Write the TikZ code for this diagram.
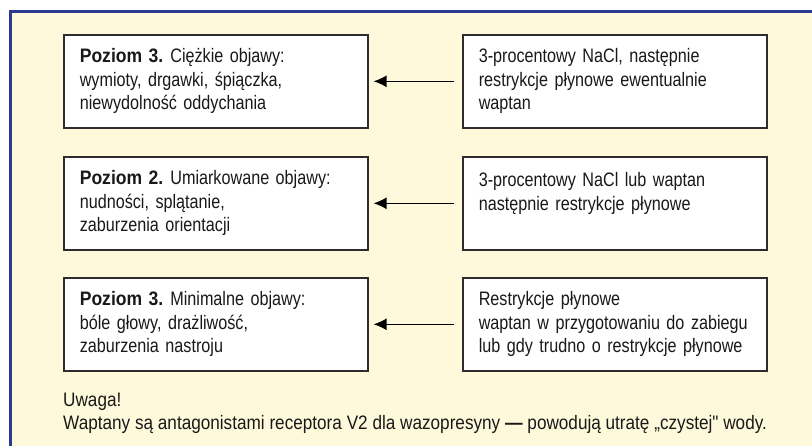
\documentclass[tikz,border=0pt]{standalone}
\usepackage{fontspec}
\setmainfont[FakeStretch=0.83, BoldFeatures={FakeStretch=0.9}]{Liberation Sans}
\newfontfamily\uwagafont[FakeStretch=0.88, BoldFeatures={FakeStretch=0.9}]{Liberation Sans}
\usepackage{tikz}
\usetikzlibrary{arrows.meta,positioning}
\definecolor{tlo}{RGB}{255,249,219}
\definecolor{ramka}{RGB}{43,57,144}
\definecolor{kreska}{RGB}{45,45,45}
\newcommand{\poziom}[1]{\textbf{Poziom #1.}\hspace{7pt}}

\begin{document}
\begin{tikzpicture}[x=1pt, y=-1pt, >={Latex[length=13pt,width=12pt]}]
   \useasboundingbox (0,0) rectangle (812,446);
   \fill[tlo] (10,11.5) rectangle (812,446);
   \draw[ramka, line width=3pt] (812,11.5) -- (10,11.5) -- (10,446);
   \begin{scope}[every node/.style={draw=kreska, fill=white, line width=1.6pt, anchor=north west, minimum width=304pt, minimum height=93pt, text width=272pt, inner xsep=16pt, align=left, text=black!90, font=\fontsize{19.5}{23.5}\selectfont}]
    \node (l1) at (63,34) {\poziom{3}Ciężkie objawy:\\wymioty, drgawki, śpiączka,\\niewydolność oddychania};
    \node (r1) at (462,34) {3-procentowy NaCl, następnie\\restrykcje płynowe ewentualnie\\waptan};
    \node (l2) at (63,156) {\poziom{2}Umiarkowane objawy:\\nudności, splątanie,\\zaburzenia orientacji};
    \node (r2) at (462,156) {3-procentowy NaCl lub waptan\\następnie restrykcje płynowe\\\mbox{}};
    \node (l3) at (63,277) {\poziom{3}Minimalne objawy:\\bóle głowy, drażliwość,\\zaburzenia nastroju};
    \node (r3) at (462,277) {Restrykcje płynowe\\\mbox{waptan w przygotowaniu do zabiegu}\\\mbox{lub gdy trudno o restrykcje płynowe}};
   \end{scope}
   \begin{scope}[->, line width=1.3pt, shorten >=5pt, shorten <=8pt]
    \draw  (r1) edge (l1);
    \draw  (r2) edge (l2);
    \draw  (r3) edge (l3);
   \end{scope}
   \node (note) [anchor=north west, inner sep=0pt, align=left, text=black!90, font=\uwagafont\fontsize{19.5}{23}\selectfont] at (63,393) {Uwaga!\\Waptany są antagonistami receptora V2 dla wazopresyny \textbf{—} powodują utratę „czystej\symbol{34} wody.};
\end{tikzpicture}
\end{document}
